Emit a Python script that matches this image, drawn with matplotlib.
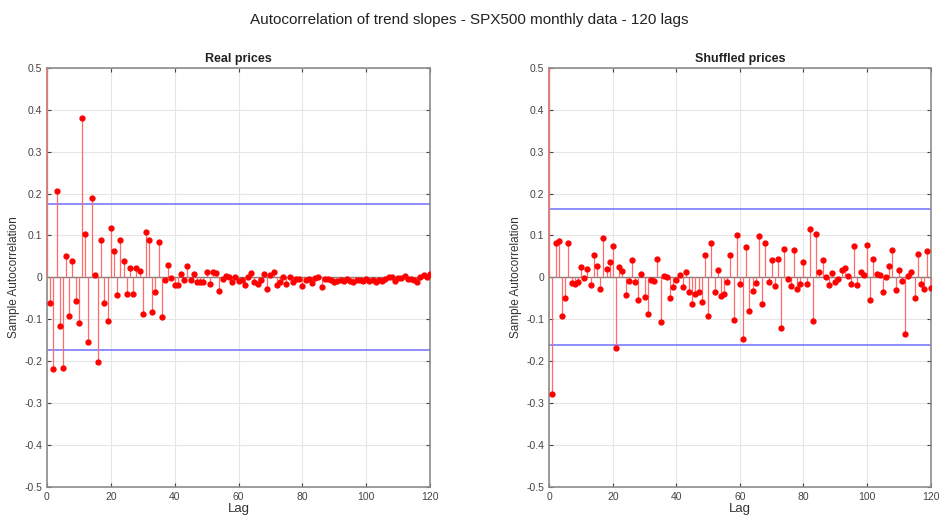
import numpy as np
import matplotlib
matplotlib.use("Agg")
import matplotlib.pyplot as plt

plt.rcParams['font.family'] = ['Liberation Sans Narrow', 'Liberation Sans', 'DejaVu Sans']

# lags 0..120
lags = np.arange(0, 121)

# autocorrelation - real prices
acf_real = [1.0,
    -0.061, -0.218, 0.206, -0.115, -0.216, 0.050, -0.091, 0.038, -0.056, -0.110,
    0.381, 0.104, -0.155, 0.190, 0.005, -0.203, 0.089, -0.061, -0.104, 0.117,
    0.062, -0.043, 0.090, 0.040, -0.039, 0.022, -0.039, 0.022, 0.016, -0.088,
    0.109, 0.089, -0.082, -0.036, 0.085, -0.094, -0.007, 0.029, -0.002, -0.018,
    -0.018, 0.009, -0.006, 0.026, -0.006, 0.008, -0.010, -0.011, -0.012, 0.013,
    -0.016, 0.013, 0.011, -0.033, -0.005, 0.004, 0.002, -0.012, 0.001, -0.009,
    -0.007, -0.018, 0.002, 0.010, -0.012, -0.016, -0.007, 0.007, -0.027, 0.006,
    0.012, -0.018, -0.010, 0.001, -0.015, 0.001, -0.011, -0.003, -0.003, -0.020,
    -0.006, -0.003, -0.013, -0.002, 0.002, -0.024, -0.003, -0.004, -0.006, -0.011,
    -0.008, -0.006, -0.009, -0.005, -0.008, -0.010, -0.006, -0.007, -0.009, -0.005,
    -0.008, -0.007, -0.010, -0.006, -0.008, -0.005, 0.001, 0.000, -0.008, -0.002,
    -0.001, 0.004, -0.004, -0.004, -0.006, -0.010, 0.001, 0.005, 0.002, 0.007]

# autocorrelation - shuffled prices
acf_shuf = [1.0,
    -0.277, 0.083, 0.086, -0.093, -0.050, 0.081, -0.014, -0.016, -0.010, 0.024,
    -0.002, 0.021, -0.018, 0.054, 0.028, -0.028, 0.095, 0.021, 0.037, 0.076,
    -0.169, 0.024, 0.016, -0.043, -0.008, 0.042, -0.010, -0.053, 0.009, -0.046,
    -0.087, -0.006, -0.008, 0.044, -0.107, 0.003, 0.001, -0.049, -0.024, -0.006,
    0.006, -0.024, 0.014, -0.036, -0.064, -0.040, -0.034, -0.058, 0.054, -0.093,
    0.083, -0.034, 0.017, -0.045, -0.040, -0.010, 0.053, -0.102, 0.102, -0.017,
    -0.146, 0.072, -0.080, -0.033, -0.014, 0.099, -0.063, 0.083, -0.010, 0.041,
    -0.021, 0.045, -0.121, 0.068, -0.004, -0.021, 0.065, -0.027, -0.017, 0.037,
    -0.015, 0.115, -0.103, 0.104, 0.014, 0.041, 0.002, -0.018, 0.010, -0.012,
    -0.003, 0.017, 0.022, 0.003, -0.017, 0.074, -0.018, 0.014, 0.005, 0.078,
    -0.053, 0.045, 0.007, 0.005, -0.036, 0.001, 0.028, 0.065, -0.030, 0.017,
    -0.008, -0.135, 0.003, 0.014, -0.049, 0.055, -0.017, -0.027, 0.063, -0.025]

bounds = [0.174, 0.162]
titles = ["Real prices", "Shuffled prices"]

fig = plt.figure(figsize=(9.39, 5.17), dpi=100)
fig.suptitle("Autocorrelation of trend slopes - SPX500 monthly data - 120 lags",
             y=0.975, fontsize=11, color='#222222')

ax1 = fig.add_axes([0.050, 0.058, 0.408, 0.811])
ax2 = fig.add_axes([0.585, 0.058, 0.406, 0.811])

for ax, vals, b, t in zip([ax1, ax2], [acf_real, acf_shuf], bounds, titles):
    ymax = 0.5
    ax.axhline(0, color='#808080', lw=1.0, zorder=1)
    # stems drawn unclipped so lag 0 shows over the left spine; tops limited to ylim
    ax.vlines(lags, 0, np.minimum(vals, ymax), color='#ff6b6b', lw=0.9,
              zorder=3, clip_on=False)
    ax.plot(lags, vals, 'o', color='red', ms=3.5, zorder=4)
    ax.axhline(b, color='#6f6fff', lw=1.1, zorder=2)
    ax.axhline(-b, color='#6f6fff', lw=1.1, zorder=2)
    ax.set_xlim(0, 120)
    ax.set_ylim(-0.5, ymax)
    ax.set_xticks(np.arange(0, 121, 20))
    ax.set_yticks(np.arange(-0.5, 0.51, 0.1))
    ax.set_yticklabels(['-0.5', '-0.4', '-0.3', '-0.2', '-0.1', '0',
                        '0.1', '0.2', '0.3', '0.4', '0.5'])
    ax.grid(True, color='#e6e6e6', lw=0.8)
    ax.set_axisbelow(True)
    ax.tick_params(direction='in', top=True, right=True, length=3,
                   labelsize=7.5, colors='#444444', width=0.8)
    for s in ax.spines.values():
        s.set_color('#8c8c8c')
        s.set_linewidth(1.2)
    ax.set_title(t, fontsize=9, fontweight='bold', pad=4, color='#222222')
    ax.set_xlabel("Lag", fontsize=9.5, labelpad=1, color='#333333')
    ax.set_ylabel("Sample Autocorrelation", fontsize=8.5, labelpad=3, color='#333333')

fig.savefig("out.png", dpi=100)
